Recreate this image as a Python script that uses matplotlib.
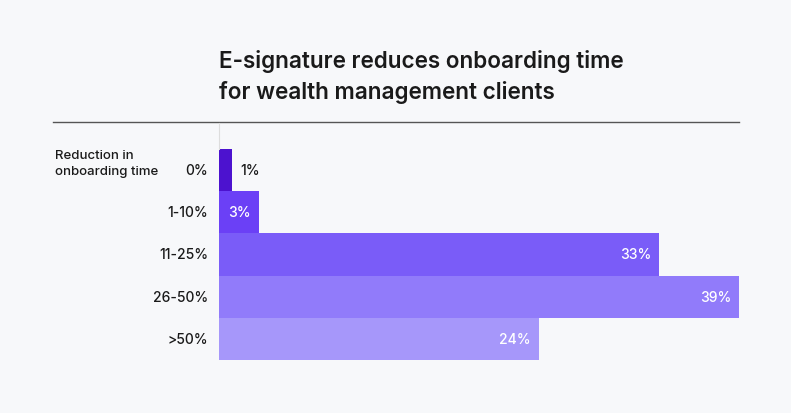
import matplotlib
matplotlib.use("Agg")
import matplotlib.pyplot as plt
from matplotlib.lines import Line2D
from matplotlib import transforms

categories = ["0%", "1-10%", "11-25%", "26-50%", ">50%"]
values = [1, 3, 33, 39, 24]
colors = ["#4C12CF", "#6B40F6", "#7A5CF8", "#917BFA", "#A697FA"]
title = "E-signature reduces onboarding time\nfor wealth management clients"
axis_label = "Reduction in\nonboarding time"

plt.rcParams['font.family'] = ['Inter', 'DejaVu Sans']
W, H = 791, 414
fig = plt.figure(figsize=(W / 100, H / 100), dpi=100)
bg = "#F7F8FA"
fig.patch.set_facecolor(bg)

left, right, top, bottom = 219, 739, 150, 361
ax = fig.add_axes([left / W, (H - bottom) / H, (right - left) / W, (bottom - top) / H])
ax.set_facecolor(bg)
ypos = list(range(len(categories)))
ax.barh(ypos, values, height=1.0, color=colors, edgecolor="none")
ax.set_xlim(0, max(values))
ax.set_ylim(len(categories) - 0.5, -0.5)
ax.axis("off")

for i, (c, v) in enumerate(zip(categories, values)):
    ax.text(-11 / 13.33, i, c, ha="right", va="center", fontsize=10, color="#1a1a1a",
            fontweight="medium")
    if v >= 3:
        off = transforms.offset_copy(ax.transData, fig=fig, x=-8, y=0, units="dots")
        ax.text(v, i, f"{v}%", ha="right", va="center", fontsize=10, color="white",
                fontweight="medium", transform=off)
    else:
        off = transforms.offset_copy(ax.transData, fig=fig, x=8, y=0, units="dots")
        ax.text(v, i, f"{v}%", ha="left", va="center", fontsize=10, color="#1a1a1a",
                fontweight="medium", transform=off)

fig.text(55 / W, 1 - 164 / H, axis_label, ha="left", va="center", fontsize=9.5,
         color="#1a1a1a", linespacing=1.35, fontweight="medium")

fig.text(219 / W, 1 - 77 / H, title, ha="left", va="center", fontsize=16.2,
         fontweight="semibold", color="#1a1a1a", linespacing=1.4)

fig.add_artist(Line2D([53 / W, 739 / W], [1 - 123 / H, 1 - 123 / H],
                      color="#555555", linewidth=1.0))
fig.add_artist(Line2D([219 / W, 219 / W], [1 - 124 / H, 1 - 150 / H],
                      color="#DDDDDD", linewidth=0.8))

fig.savefig("out.png", dpi=100, facecolor=bg)
